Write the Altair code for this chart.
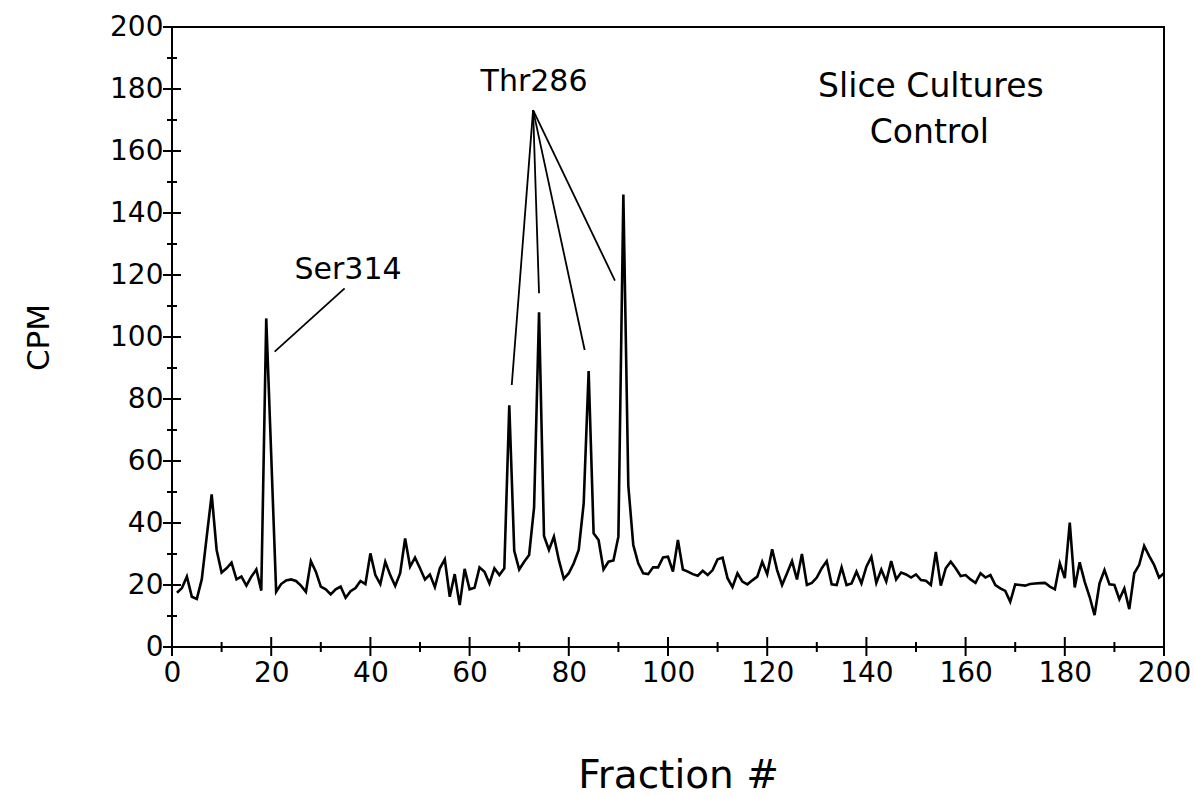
import altair as alt
import pandas as pd

# CPM per fraction, fractions 1..200
fractions = list(range(1, 201))
cpm = [
    17.5, 19, 22.7, 16.2, 15.5, 21.8, 35.6, 49.2, 31.3, 24,
    25.4, 27.2, 21.8, 22.7, 19.8, 22.7, 25, 18.2, 106, 62,
    17.8, 20.3, 21.5, 21.8, 21.3, 19.8, 17.8, 27.7, 24.3, 19.5,
    18.6, 17, 18.6, 19.5, 15.9, 18, 19, 21.3, 20.3, 30.2,
    23.2, 20.3, 27.5, 23.2, 19.7, 23.8, 35, 25.9, 28.8, 25.4,
    21.8, 23.4, 19.3, 25.4, 28.3, 16.2, 23.5, 13.5, 25.2, 18.6,
    19.1, 25.7, 24.3, 20.5, 25.4, 23.2, 25.4, 78, 31, 25,
    27.5, 29.7, 45, 108, 35.8, 31.3, 35.6, 28, 22, 23.8,
    27, 31.3, 46.3, 89, 36.7, 34.5, 25, 27.5, 27.9, 35.6,
    146, 52, 32.9, 27, 23.8, 23.5, 25.7, 25.7, 28.9, 29.1,
    24.3, 34.5, 25, 24.3, 23.5, 23, 24.6, 23.2, 24.8, 28.3,
    28.8, 22.2, 19.3, 23.8, 21.1, 20.2, 21.5, 22.7, 27.5, 23.5,
    31.5, 24.8, 20, 23.8, 27.7, 21.8, 30, 20, 20.7, 22.4,
    25.4, 27.7, 20.2, 20, 25.7, 20, 20.5, 24.3, 20.5, 25.9,
    29.1, 20.7, 25, 21.1, 27.7, 21.8, 24, 23.4, 22.4, 23.4,
    21.6, 21.4, 20, 30.7, 19.8, 25.4, 27.5, 25.4, 22.9, 23.2,
    21.8, 20.7, 23.8, 22.4, 23.2, 20, 18.9, 18.1, 14.6, 20.2,
    20, 19.8, 20.3, 20.5, 20.6, 20.7, 19.5, 18.6, 27, 22.2,
    40.1, 19.2, 27.3, 21.1, 16.2, 10.3, 20.5, 24.8, 20.2, 20,
    15.4, 18.9, 12.2, 23.8, 26.5, 32.6, 29.4, 26.5, 22.4, 23.8,
]

major_ticks = list(range(0, 201, 20))
minor_ticks = list(range(10, 200, 20))

# Peak labels and their leader lines (data units)
label_text = ["Thr286", "Ser314"]
label_x = [73.0, 35.5]
label_y = [182.4, 121.6]

leader_x1 = [72.8, 72.8, 72.8, 72.8, 34.8]
leader_y1 = [173.2, 173.2, 173.2, 173.2, 115.7]
leader_x2 = [68.5, 74.0, 83.2, 89.3, 20.7]
leader_y2 = [84.5, 114.1, 95.8, 118.2, 95.3]

# Sample condition caption (data units)
caption_text = ["Slice Cultures", "Control"]
caption_x = [153.0, 152.7]
caption_y = [180.6, 165.8]

FONT = "DejaVu Sans"
W, H = 992, 620

profile = pd.DataFrame({"fraction": fractions, "cpm": cpm})
major = pd.DataFrame({"v": major_ticks})
minor = pd.DataFrame({"v": minor_ticks})
labels = pd.DataFrame({"t": label_text, "x": label_x, "y": label_y})
leaders = pd.DataFrame({"x1": leader_x1, "y1": leader_y1, "x2": leader_x2, "y2": leader_y2})
captions = pd.DataFrame({"t": caption_text, "x": caption_x, "y": caption_y})

xs = alt.Scale(domain=[0, 200], nice=False, zero=False)
ys = alt.Scale(domain=[0, 200], nice=False, zero=False)

x_axis = alt.Axis(
    values=major_ticks, ticks=False, domain=False, grid=False, labelFlush=False,
    labelFont=FONT, labelFontSize=28, labelColor="black", labelPadding=12,
    title="Fraction #", titleFont=FONT, titleFontSize=39, titleFontWeight="normal",
    titleColor="black", titleX=506, titleY=128, titleAlign="center", titleBaseline="middle",
)
y_axis = alt.Axis(
    values=major_ticks, ticks=False, domain=False, grid=False, labelFlush=False,
    labelFont=FONT, labelFontSize=28, labelColor="black", labelPadding=9,
    title="CPM", titleFont=FONT, titleFontSize=31, titleFontWeight="normal",
    titleColor="black", titleX=-133, titleY=310, titleAlign="center",
    titleBaseline="middle", titleAngle=270,
)

line = alt.Chart(profile).mark_line(color="black", strokeWidth=2.6).encode(
    x=alt.X("fraction:Q", scale=xs, axis=x_axis),
    y=alt.Y("cpm:Q", scale=ys, axis=y_axis),
)

# Ticks crossing the axis lines
y_major = alt.Chart(major).mark_rule(color="black", strokeWidth=2).encode(
    y=alt.Y("v:Q", scale=ys), x=alt.value(-9), x2=alt.value(9))
y_minor = alt.Chart(minor).mark_rule(color="black", strokeWidth=2).encode(
    y=alt.Y("v:Q", scale=ys), x=alt.value(-5), x2=alt.value(5))
x_major = alt.Chart(major).mark_rule(color="black", strokeWidth=2).encode(
    x=alt.X("v:Q", scale=xs), y=alt.value(H - 10), y2=alt.value(H + 9))
x_minor = alt.Chart(minor).mark_rule(color="black", strokeWidth=2).encode(
    x=alt.X("v:Q", scale=xs), y=alt.value(H - 5), y2=alt.value(H + 5))

leader_lines = alt.Chart(leaders).mark_rule(color="black", strokeWidth=1.8).encode(
    x=alt.X("x1:Q", scale=xs), y=alt.Y("y1:Q", scale=ys),
    x2="x2:Q", y2="y2:Q",
)

peak_labels = alt.Chart(labels).mark_text(
    font=FONT, fontSize=30, color="black", align="center", baseline="middle"
).encode(x=alt.X("x:Q", scale=xs), y=alt.Y("y:Q", scale=ys), text="t:N")

condition_labels = alt.Chart(captions).mark_text(
    font=FONT, fontSize=33, color="black", align="center", baseline="middle"
).encode(x=alt.X("x:Q", scale=xs), y=alt.Y("y:Q", scale=ys), text="t:N")

chart = alt.layer(
    line, y_major, y_minor, x_major, x_minor, leader_lines, peak_labels, condition_labels
).properties(
    width=W, height=H,
    autosize=alt.AutoSizeParams(type="none"),
    padding={"left": 172, "top": 27, "right": 30, "bottom": 150},
    background="white",
).configure_view(stroke="black", strokeWidth=2)

chart.save("out.html", embed_options={"renderer": "svg", "actions": False})
